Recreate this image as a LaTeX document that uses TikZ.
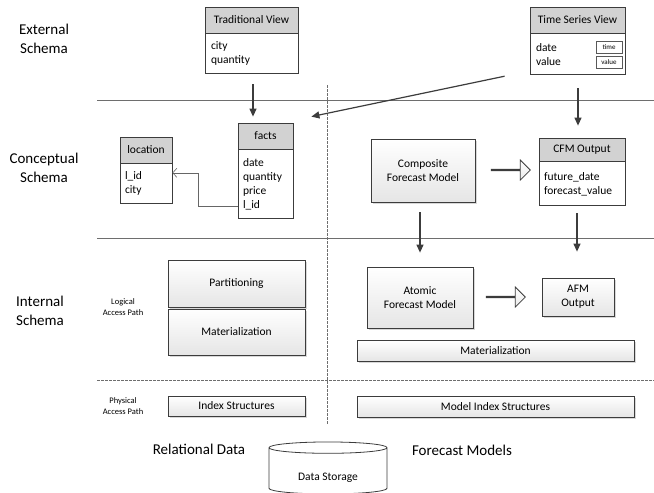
\documentclass[tikz,border=0pt]{standalone}
\usepackage{fontspec}
\setmainfont{Carlito}
\usetikzlibrary{calc,positioning,arrows.meta,shapes.geometric,shapes.arrows,shadows}
\definecolor{boxline}{HTML}{3C3C3C}
\definecolor{headgray}{HTML}{D2D2D2}
\definecolor{sepgray}{HTML}{6E6E6E}
\tikzset{
  tabhead/.style={draw=boxline, fill=headgray, line width=0.8pt, inner sep=0pt, minimum height=26pt},
  tabbody/.style={draw=boxline, fill=white, line width=0.8pt, align=left, inner xsep=6pt, inner ysep=0pt, anchor=north},
  shbox/.style={draw=boxline, line width=0.8pt, top color=white, bottom color=black!10,
    drop shadow={shadow xshift=1.5pt, shadow yshift=-1.5pt, fill=black!30}, align=center, inner sep=0pt},
  smallbox/.style={draw=gray!70!black, line width=0.5pt, fill=white, font=\fontsize{7}{8}\selectfont,
    minimum width=26pt, minimum height=12pt, inner sep=0pt},
  arr/.style={draw=boxline, line width=1.2pt, -{Triangle[length=8pt,width=7pt]}},
  fkline/.style={draw=gray!80!black, line width=0.6pt, -{Straight Barb[length=4pt,width=9pt]}},
  fatarrow/.style={single arrow, draw=boxline, top color=white, bottom color=black!8, line width=0.8pt, inner sep=0pt,
    minimum width=20pt, single arrow head extend=6pt, minimum height=39pt},
  sepline/.style={draw=sepgray, line width=0.8pt},
  sepdash/.style={draw=sepgray, line width=0.7pt, dash pattern=on 2.5pt off 1.5pt},
  schemalabel/.style={font=\fontsize{15}{19}\selectfont, align=center},
  pathlabel/.style={font=\fontsize{8.5}{11}\selectfont, align=center}
}
\begin{document}
\begin{tikzpicture}[x=1pt, y=-1pt, font=\fontsize{11.5}{14}\selectfont]
\fill[white] (0,0) rectangle (654,493);
\useasboundingbox (0,0) rectangle (654,493);

\draw[sepline] (97,100) -- (654,100);
\draw[sepline] (97,238) -- (654,238);
\draw[sepdash] (97,380) -- (654,380);
\draw[sepdash] (327,85) -- (327,425);

\node[schemalabel] (ext) at (44,38.5) {External\\Schema};
\node[schemalabel] (conc) at (44,168) {Conceptual\\Schema};
\node[schemalabel] (intl) at (40,311) {Internal\\Schema};
\node[pathlabel] (logp) at (123,307.5) {Logical\\Access Path};
\node[pathlabel] (phyp) at (123,406.5) {Physical\\Access Path};
\node[schemalabel] (reld) at (199,449) {Relational Data};
\node[schemalabel] (fcm) at (462,450) {Forecast Models};

\node[tabhead, minimum width=93pt] (tvh) at (251.5,20) {Traditional View};
\node[tabbody, text width=81pt, minimum height=40pt, below=0pt of tvh] (tvb) {city\\quantity};

\node[tabhead, minimum width=95pt] (tsh) at (577.5,20) {Time Series View};
\node[tabbody, text width=83pt, minimum height=41pt, below=0pt of tsh] (tsb) {date\\value};
\node[smallbox] (tmb) at (609,47) {time};
\node[smallbox] (vlb) at (609,62) {value};

\node[tabhead, minimum width=55pt] (fh) at (265.5,136) {facts};
\node[tabbody, text width=45pt, inner xsep=5pt, minimum height=69pt, below=0pt of fh] (fb) {date\\quantity\\price\\l\_id};

\node[tabhead, minimum width=52pt] (lh) at (146,150) {location};
\node[tabbody, text width=42pt, inner xsep=5pt, minimum height=40pt, below=0pt of lh] (lb) {l\_id\\city};

\node[tabhead, minimum width=86pt, minimum height=23pt] (coh) at (582,149.5) {CFM Output};
\node[tabbody, text width=76pt, inner xsep=5pt, minimum height=44pt, below=0pt of coh] (cob) {future\_date\\forecast\_value};

\node[shbox, minimum width=104pt, minimum height=63pt] (cfm) at (423,170.5) {Composite\\Forecast Model};
\node[shbox, minimum width=106pt, minimum height=61pt] (afm) at (420,297.5) {Atomic\\Forecast Model};
\node[shbox, minimum width=72pt, minimum height=38pt] (afo) at (578,297) {AFM\\Output};
\node[shbox, minimum width=277pt, minimum height=21pt] (matr) at (495.5,350.5) {Materialization};
\node[shbox, minimum width=277pt, minimum height=21pt] (midx) at (495.5,406.5) {Model Index Structures};
\node[shbox, minimum width=137pt, minimum height=47pt] (part) at (236.5,283.5) {Partitioning};
\node[shbox, minimum width=137pt, minimum height=46pt] (matl) at (236.5,332) {Materialization};
\node[shbox, minimum width=137pt, minimum height=20pt] (idx) at (236.5,406) {Index Structures};

\node[fatarrow] (fa1) at (510.5,170) {};
\node[fatarrow] (fa2) at (505.5,297) {};

\node[cylinder, shape border rotate=90, draw=boxline, fill=white, line width=0.8pt, aspect=0.19,
  minimum width=118pt, minimum height=52pt, inner sep=0pt, text height=20pt, text depth=2pt] (ds) at (328,471) {Data Storage};

\coordinate (tsleft) at ($(tsb.south west)+(-25,1)$);
\coordinate (factsnear) at ($(fh.north east)+(18,-6)$);

\draw[arr] ($(tvb.south)+(1.5,10)$) -- ($(tvb.south |- fh.north)+(1.5,-6)$);
\draw[arr] ($(tsb.south)+(0.5,13)$) -- ($(tsb.south |- coh.north)+(0.5,-12)$);
\draw[arr] (tsleft) -- (factsnear);
\draw[arr] ($(cfm.south)+(-3,10)$) -- ($(cfm.south |- afm.north)+(-3,-14)$);
\draw[arr] ($(cob.south)+(-5,7)$) -- ($(cob.south |- afo.north)+(-5,-26)$);
\draw[fkline] ($(fb.west)+(0,21.5)$) -- ++(-39,0) |- ($(lb.east)+(0,-11)$);
\end{tikzpicture}
\end{document}
